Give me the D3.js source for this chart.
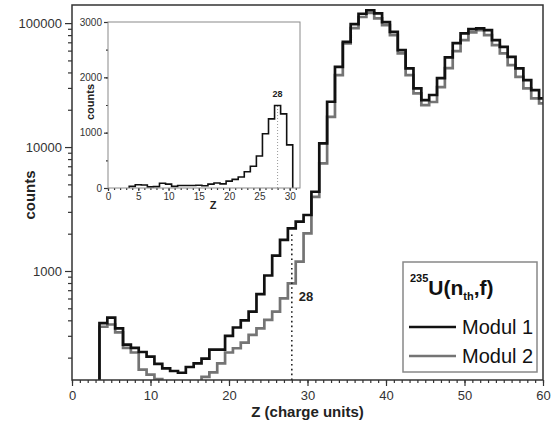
<!DOCTYPE html>
<html>
<head>
<meta charset="utf-8">
<script src="https://cdn.jsdelivr.net/npm/d3@7/dist/d3.min.js"></script>
<style>
  body { margin: 0; background: #fff; }
  svg { display: block; font-family: "Liberation Sans", Arial, sans-serif; }
</style>
</head>
<body>
<div id="chart"></div>
<script>
// charge bins (Z) and counts per bin
const charges = d3.range(4, 61);
const modul1 = [380, 420, 345, 255, 240, 222, 204, 178, 164, 156,
  151, 168, 180, 196, 232, 232, 300, 350, 400, 470,
  650, 920, 1330, 1780, 2210, 2500, 2830, 4360, 10700, 23200,
  44400, 70600, 98000, 119000, 127000, 120000, 102000, 85000, 60600, 43100,
  29700, 23900, 26300, 36000, 53000, 69000, 82600, 89500, 90600, 87900,
  72900, 64400, 53500, 43100, 34700, 28800, 24700];
const modul2 = [355, 370, 320, 240, 220, 160, 146, 134, 112, 104,
  106, 115, 126, 140, 152, 180, 220, 238, 264, 305,
  345, 403, 470, 602, 796, 1190, 2010, 3970, 7390, 17500,
  38100, 68600, 91000, 112000, 121000, 109000, 96400, 80000, 57000, 38100,
  27100, 21800, 23100, 30500, 43400, 59500, 72900, 84100, 87900, 80000,
  66500, 57000, 45800, 36900, 29700, 24700, 22500];

// inset: linear-scale histogram of the light fragments
const insetCharges = d3.range(4, 31);
const insetCounts = [30, 60, 55, 20, 25, 85, 70, 30, 45, 45,
  45, 50, 40, 70, 90, 75, 125, 155, 200, 295,
  394, 578, 980, 1250, 1490, 1340, 780];

const xTicks = [0, 10, 20, 30, 40, 50, 60];
const yTicks = [1000, 10000, 100000];
const insetXTicks = [0, 5, 10, 15, 20, 25, 30];
const insetYTicks = [0, 1000, 2000, 3000];
const markedCharge = 28;

const series = [
  { label: 'Modul 2', values: modul2, color: '#747474' },
  { label: 'Modul 1', values: modul1, color: '#111' }
];

const width = 558, height = 428;
const plot = { left: 72, right: 543, top: 5, bottom: 380 };
const inset = { left: 108, right: 300, top: 22, bottom: 188 };

const svg = d3.select('#chart').append('svg')
  .attr('width', width)
  .attr('height', height);

const x = d3.scaleLinear().domain([0, 60]).range([plot.left, plot.right]);
const y = d3.scaleLog().domain([132, 140000]).range([plot.bottom, plot.top]);

/**
 * Step outline for a histogram with unit-wide bins
 */
function stepPoints(zs, vs, floor, closeBottom) {
  let pts = [[zs[0] - 0.5, floor]];
  zs.forEach((z, i) => pts.push([z - 0.5, vs[i]]));
  pts.push([zs[zs.length - 1] + 0.5, vs[vs.length - 1]]);
  if (closeBottom) pts.push([zs[zs.length - 1] + 0.5, floor]);
  return pts;
}

function styleTicks(g, size) {
  g.select('.domain').remove();
  g.selectAll('.tick line').attr('stroke', '#333').attr('stroke-width', 1.2);
  g.selectAll('.tick text').attr('fill', '#333').style('font-size', size + 'px');
}

svg.append('clipPath').attr('id', 'plot-clip')
  .append('rect')
  .attr('x', plot.left).attr('y', plot.top)
  .attr('width', plot.right - plot.left).attr('height', plot.bottom - plot.top);

// main axes: majors with labels, minors without
let minorY = [];
[100, 1000, 10000].forEach(dec => d3.range(2, 10).forEach(m => {
  if (dec * m >= 132 && dec * m <= 140000) minorY.push(dec * m);
}));

svg.append('g')
  .attr('transform', `translate(${plot.left},0)`)
  .call(d3.axisLeft(y).tickValues(minorY).tickSize(4).tickSizeOuter(0).tickFormat(''))
  .call(g => styleTicks(g, 13));

svg.append('g')
  .attr('transform', `translate(${plot.left},0)`)
  .call(d3.axisLeft(y).tickValues(yTicks).tickSize(7).tickPadding(3).tickSizeOuter(0).tickFormat(d3.format('d')))
  .call(g => styleTicks(g, 13));

svg.append('g')
  .attr('transform', `translate(0,${plot.bottom})`)
  .call(d3.axisBottom(x).tickValues(d3.range(0, 61)).tickSize(3).tickSizeOuter(0).tickFormat(''))
  .call(g => styleTicks(g, 13));

svg.append('g')
  .attr('transform', `translate(0,${plot.bottom})`)
  .call(d3.axisBottom(x).tickValues(xTicks).tickSize(6).tickPadding(5).tickSizeOuter(0))
  .call(g => styleTicks(g, 13));

// histograms
const line = d3.line()
  .x(d => x(d[0]))
  .y(d => y(d[1]))
  .curve(d3.curveStepAfter);

svg.append('g')
  .attr('clip-path', 'url(#plot-clip)')
  .selectAll('path')
  .data(series)
  .enter().append('path')
  .attr('d', d => line(stepPoints(charges, d.values, 100, false)))
  .attr('fill', 'none')
  .attr('stroke', d => d.color)
  .attr('stroke-width', 2.7)
  .attr('stroke-linejoin', 'miter');

// dotted marker at Z = 28
const markIdx = charges.indexOf(markedCharge);
svg.append('line')
  .attr('x1', x(markedCharge)).attr('x2', x(markedCharge))
  .attr('y1', plot.bottom).attr('y2', y(modul1[markIdx]) + 3)
  .attr('stroke', '#222')
  .attr('stroke-width', 1.6)
  .attr('stroke-dasharray', '1.6,3.2');

svg.append('text')
  .attr('x', x(markedCharge) + 7)
  .attr('y', 301)
  .attr('font-size', 13)
  .attr('font-weight', 'bold')
  .attr('fill', '#222')
  .text(markedCharge);

// frame
svg.append('rect')
  .attr('x', plot.left).attr('y', plot.top)
  .attr('width', plot.right - plot.left).attr('height', plot.bottom - plot.top)
  .attr('fill', 'none')
  .attr('stroke', '#333')
  .attr('stroke-width', 1.5);

svg.append('text')
  .attr('transform', 'translate(30,195) rotate(-90)')
  .attr('text-anchor', 'middle')
  .attr('dy', '0.35em')
  .attr('font-size', 15)
  .attr('font-weight', 'bold')
  .attr('fill', '#222')
  .text('counts');

svg.append('text')
  .attr('x', (plot.left + plot.right) / 2)
  .attr('y', 412)
  .attr('text-anchor', 'middle')
  .attr('dy', '0.35em')
  .attr('font-size', 15)
  .attr('font-weight', 'bold')
  .attr('fill', '#222')
  .text('Z (charge units)');

// legend
const legend = svg.append('g').attr('class', 'legend');
legend.append('rect')
  .attr('x', 403).attr('y', 262)
  .attr('width', 134).attr('height', 110)
  .attr('fill', '#fff')
  .attr('stroke', '#888')
  .attr('stroke-width', 1.5);

const title = legend.append('text')
  .attr('x', 410).attr('y', 295)
  .attr('font-weight', 'bold')
  .attr('fill', '#111');
title.append('tspan').attr('y', 282).attr('font-size', 11).text('235');
title.append('tspan').attr('y', 295).attr('font-size', 21).text('U(n');
title.append('tspan').attr('y', 300).attr('font-size', 11).text('th');
title.append('tspan').attr('y', 295).attr('font-size', 21).text(',f)');

const entries = legend.selectAll('.entry')
  .data(series.slice().reverse())
  .enter().append('g')
  .attr('class', 'entry')
  .attr('transform', (d, i) => 'translate(0,' + (327 + i * 29) + ')');

entries.append('line')
  .attr('x1', 409).attr('x2', 456)
  .attr('stroke', d => d.color)
  .attr('stroke-width', 2.7);

entries.append('text')
  .attr('x', 462)
  .attr('dy', '0.35em')
  .attr('font-size', 20)
  .attr('fill', '#111')
  .text(d => d.label);

// inset
const ix = d3.scaleLinear().domain([0, 31.7]).range([inset.left, inset.right]);
const iy = d3.scaleLinear().domain([0, 3000]).range([inset.bottom, inset.top]);
const insetG = svg.append('g').attr('class', 'inset');

insetG.append('rect')
  .attr('x', inset.left).attr('y', inset.top)
  .attr('width', inset.right - inset.left).attr('height', inset.bottom - inset.top)
  .attr('fill', '#fff');

insetG.append('g')
  .attr('transform', `translate(${inset.left},0)`)
  .call(d3.axisLeft(iy).tickValues(d3.range(0, 3001, 500)).tickSize(2).tickSizeOuter(0).tickFormat(''))
  .call(g => styleTicks(g, 10));
insetG.append('g')
  .attr('transform', `translate(${inset.left},0)`)
  .call(d3.axisLeft(iy).tickValues(insetYTicks).tickSize(4).tickPadding(2).tickSizeOuter(0).tickFormat(d3.format('d')))
  .call(g => styleTicks(g, 10));
insetG.append('g')
  .attr('transform', `translate(0,${inset.bottom})`)
  .call(d3.axisBottom(ix).tickValues(d3.range(0, 32)).tickSize(2).tickSizeOuter(0).tickFormat(''))
  .call(g => styleTicks(g, 10));
insetG.append('g')
  .attr('transform', `translate(0,${inset.bottom})`)
  .call(d3.axisBottom(ix).tickValues(insetXTicks).tickSize(3).tickPadding(2).tickSizeOuter(0))
  .call(g => styleTicks(g, 10));

const insetIdx = insetCharges.indexOf(markedCharge);
insetG.append('line')
  .attr('x1', ix(markedCharge)).attr('x2', ix(markedCharge))
  .attr('y1', inset.bottom).attr('y2', iy(insetCounts[insetIdx]))
  .attr('stroke', '#999')
  .attr('stroke-width', 1)
  .attr('stroke-dasharray', '1,2');

const insetLine = d3.line()
  .x(d => ix(d[0]))
  .y(d => iy(d[1]))
  .curve(d3.curveStepAfter);

insetG.append('path')
  .attr('d', insetLine(stepPoints(insetCharges, insetCounts, 0, true)))
  .attr('fill', 'none')
  .attr('stroke', '#111')
  .attr('stroke-width', 1.6);

insetG.append('text')
  .attr('x', ix(markedCharge))
  .attr('y', iy(insetCounts[insetIdx]) - 9)
  .attr('text-anchor', 'middle')
  .attr('font-size', 9)
  .attr('font-weight', 'bold')
  .attr('fill', '#222')
  .text(markedCharge);

insetG.append('rect')
  .attr('x', inset.left).attr('y', inset.top)
  .attr('width', inset.right - inset.left).attr('height', inset.bottom - inset.top)
  .attr('fill', 'none')
  .attr('stroke', '#8a8a8a')
  .attr('stroke-width', 1);

insetG.append('text')
  .attr('transform', 'translate(90,102) rotate(-90)')
  .attr('text-anchor', 'middle')
  .attr('dy', '0.35em')
  .attr('font-size', 11)
  .attr('font-weight', 'bold')
  .attr('fill', '#222')
  .text('counts');

insetG.append('text')
  .attr('x', 213).attr('y', 205)
  .attr('text-anchor', 'middle')
  .attr('dy', '0.35em')
  .attr('font-size', 11)
  .attr('font-weight', 'bold')
  .attr('fill', '#222')
  .text('Z');
</script>
</body>
</html>
